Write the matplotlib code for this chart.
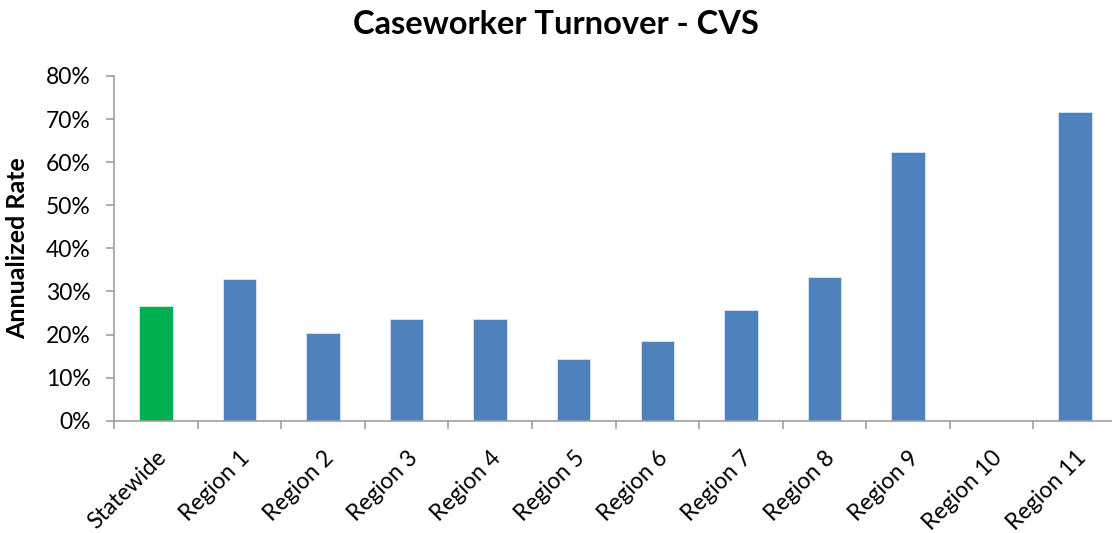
import matplotlib.pyplot as plt
from matplotlib.ticker import FuncFormatter, MultipleLocator

plt.rcParams['font.family'] = ['Lato', 'DejaVu Sans']

# Data (annualized turnover, %)
categories = ['Statewide', 'Region 1', 'Region 2', 'Region 3', 'Region 4', 'Region 5',
              'Region 6', 'Region 7', 'Region 8', 'Region 9', 'Region 10', 'Region 11']
rates = [26.6, 32.8, 20.3, 23.6, 23.6, 14.4, 18.6, 25.7, 33.4, 62.3, 0.0, 71.6]
bar_colors = ['#00B050'] + ['#4F81BD'] * 11

fig = plt.figure(figsize=(11.12, 5.33), dpi=100)
ax = fig.add_axes([114 / 1112, 1 - 420.7 / 533, 1003 / 1112, (420.7 - 76) / 533])

x = range(len(categories))
ax.bar(x, rates, width=0.4, color=bar_colors, edgecolor='#DCE6F2', linewidth=0.6, zorder=2)

ax.set_xlim(-0.5, len(categories) - 0.5)
ax.set_ylim(0, 80)
ax.yaxis.set_major_locator(MultipleLocator(10))
ax.yaxis.set_major_formatter(FuncFormatter(lambda v, pos: f'{v:.0f}%'))

# category boundary ticks like Excel
ax.set_xticks([i - 0.5 for i in range(len(categories) + 1)])
ax.set_xticklabels([])
ax.set_xticks(list(x), minor=True)
ax.set_xticklabels(categories, minor=True, rotation=45, ha='right', rotation_mode='anchor', fontsize=16.5)
ax.tick_params(axis='x', which='minor', length=0, pad=19)
ax.tick_params(axis='x', which='major', length=6, color='#A0A0A0', width=1.2)
ax.tick_params(axis='y', length=6, color='#A0A0A0', width=1.2, labelsize=16.5, pad=11)

for side in ['top', 'right']:
    ax.spines[side].set_visible(False)
for side in ['left', 'bottom']:
    ax.spines[side].set_color('#A0A0A0')
    ax.spines[side].set_linewidth(1.2)

ax.set_ylabel('Annualized Rate', fontsize=18, fontweight='bold')
ax.yaxis.set_label_coords((29 - 114) / 1003, 0.5)
fig.text(0.5, 1 - 24 / 533, 'Caseworker Turnover - CVS', ha='center', va='center',
         fontsize=23.5, fontweight='bold')

plt.savefig('out.png', dpi=100)
